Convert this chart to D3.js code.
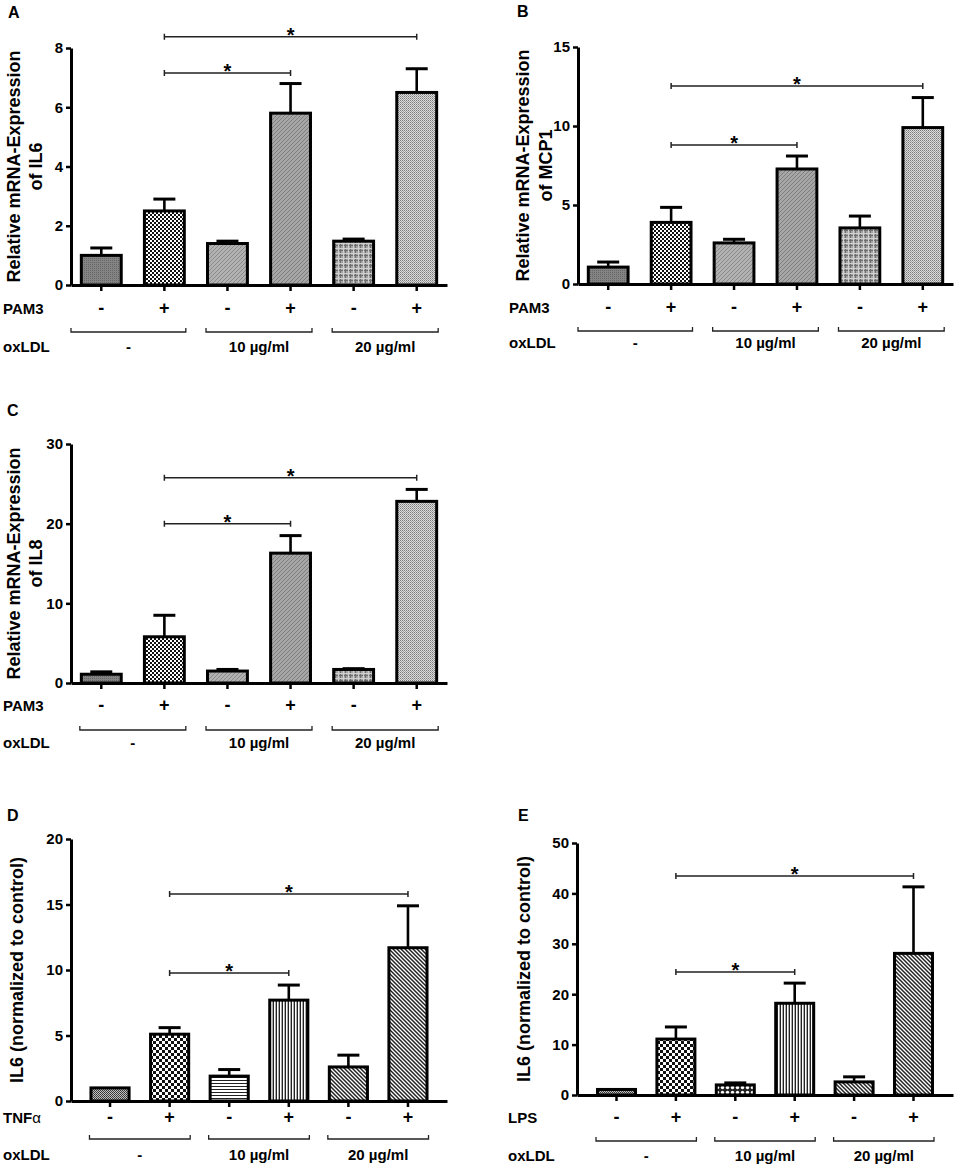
<!DOCTYPE html>
<html>
<head>
<meta charset="utf-8">
<script src="https://cdn.jsdelivr.net/npm/d3@7"></script>
<style>
  body { margin: 0; background: #fff; }
  svg { display: block; }
  text { font-family: "Liberation Sans", Arial, sans-serif; font-weight: bold; fill: #000; }
</style>
</head>
<body>
<div id="chart"></div>
<script>
// shared category labels
const treatSigns = ["-", "+", "-", "+", "-", "+"];
const oxldlGroups = ["-", "10 µg/ml", "20 µg/ml"];
const groupMembers = [[0, 1], [2, 3], [4, 5]];
const sigPairs = [[1, 3], [1, 5]];

// panel A - IL6 mRNA, PAM3
const il6Mean = [1.0, 2.5, 1.4, 5.8, 1.48, 6.5];
const il6Err  = [0.25, 0.4, 0.08, 1.0, 0.07, 0.8];
const il6Ticks = [0, 2, 4, 6, 8];

// panel B - MCP1 mRNA, PAM3
const mcp1Mean = [1.07, 3.9, 2.6, 7.28, 3.55, 9.9];
const mcp1Err  = [0.32, 0.95, 0.23, 0.82, 0.75, 1.9];
const mcp1Ticks = [0, 5, 10, 15];

// panel C - IL8 mRNA, PAM3
const il8Mean = [1.1, 5.8, 1.5, 16.3, 1.7, 22.8];
const il8Err  = [0.3, 2.7, 0.2, 2.2, 0.1, 1.5];
const il8Ticks = [0, 10, 20, 30];

// panel D - IL6 protein, TNFa
const tnfMean = [1.0, 5.1, 1.9, 7.7, 2.6, 11.7];
const tnfErr  = [0, 0.5, 0.5, 1.15, 0.9, 3.2];
const tnfTicks = [0, 5, 10, 15, 20];

// panel E - IL6 protein, LPS
const lpsMean = [1.1, 11.1, 2.0, 18.2, 2.6, 28.1];
const lpsErr  = [0, 2.4, 0.4, 4.0, 1.0, 13.2];
const lpsTicks = [0, 10, 20, 30, 40, 50];

const W = 956, H = 1165;
const svg = d3.select("#chart").append("svg").attr("width", W).attr("height", H);
svg.append("rect").attr("width", W).attr("height", H).attr("fill", "#fff");

// ---- fill patterns ----
const defs = svg.append("defs");
function pat(id, w, h, draw) {
  const p = defs.append("pattern").attr("id", id).attr("patternUnits", "userSpaceOnUse")
    .attr("width", w).attr("height", h);
  draw(p);
}
pat("pDark", 2, 2, p => {
  p.append("rect").attr("width", 2).attr("height", 2).attr("fill", "#848484");
  p.append("rect").attr("width", 1).attr("height", 1).attr("fill", "#666");
});
pat("pCheck", 4, 4, p => {
  p.append("rect").attr("width", 4).attr("height", 4).attr("fill", "#fff");
  p.append("rect").attr("width", 2).attr("height", 2).attr("fill", "#111");
  p.append("rect").attr("x", 2).attr("y", 2).attr("width", 2).attr("height", 2).attr("fill", "#111");
});
pat("pDiag1", 4, 4, p => {
  p.append("rect").attr("width", 4).attr("height", 4).attr("fill", "#b2b2b2");
  p.append("path").attr("d", "M0,4L4,0M-1,1L1,-1M3,5L5,3").attr("stroke", "#8a8a8a").attr("stroke-width", 1);
});
pat("pDiag2", 4, 4, p => {
  p.append("rect").attr("width", 4).attr("height", 4).attr("fill", "#a6a6a6");
  p.append("path").attr("d", "M0,4L4,0M-1,1L1,-1M3,5L5,3").attr("stroke", "#7e7e7e").attr("stroke-width", 1);
});
pat("pPlaid", 5, 5, p => {
  p.append("rect").attr("width", 5).attr("height", 5).attr("fill", "#a4a4a4");
  p.append("rect").attr("width", 1).attr("height", 5).attr("fill", "#6e6e6e");
  p.append("rect").attr("width", 5).attr("height", 1).attr("fill", "#6e6e6e");
  p.append("rect").attr("x", 3).attr("width", 1).attr("height", 5).attr("fill", "#d0d0d0");
  p.append("rect").attr("y", 3).attr("width", 5).attr("height", 1).attr("fill", "#d0d0d0");
});
pat("pDots", 2, 2, p => {
  p.append("rect").attr("width", 2).attr("height", 2).attr("fill", "#dcdcdc");
  p.append("rect").attr("width", 1).attr("height", 1).attr("fill", "#7a7a7a");
  p.append("rect").attr("x", 1).attr("y", 1).attr("width", 1).attr("height", 1).attr("fill", "#a0a0a0");
});
pat("dDark", 2, 2, p => {
  p.append("rect").attr("width", 2).attr("height", 2).attr("fill", "#c0c0c0");
  p.append("rect").attr("width", 1).attr("height", 1).attr("fill", "#333");
  p.append("rect").attr("x", 1).attr("y", 1).attr("width", 1).attr("height", 1).attr("fill", "#444");
});
pat("dCheck", 6, 6, p => {
  p.append("rect").attr("width", 6).attr("height", 6).attr("fill", "#fff");
  p.append("rect").attr("width", 3).attr("height", 3).attr("fill", "#111");
  p.append("rect").attr("x", 3).attr("y", 3).attr("width", 3).attr("height", 3).attr("fill", "#111");
});
pat("dHoriz", 3, 3, p => {
  p.append("rect").attr("width", 3).attr("height", 3).attr("fill", "#fff");
  p.append("rect").attr("width", 3).attr("height", 1).attr("fill", "#222");
});
pat("dVert", 3, 3, p => {
  p.append("rect").attr("width", 3).attr("height", 3).attr("fill", "#fff");
  p.append("rect").attr("width", 1).attr("height", 3).attr("fill", "#222");
  p.append("rect").attr("x", 2).attr("width", 1).attr("height", 3).attr("fill", "#aaa");
});
pat("dDiag", 4, 4, p => {
  p.append("rect").attr("width", 4).attr("height", 4).attr("fill", "#fff");
  p.append("path").attr("d", "M0,0L4,4M-1,3L1,5M3,-1L5,1").attr("stroke", "#222").attr("stroke-width", 1.5);
});
pat("eDots", 5, 5, p => {
  p.append("rect").attr("width", 5).attr("height", 5).attr("fill", "#222");
  p.append("circle").attr("cx", 2.5).attr("cy", 2.5).attr("r", 1.7).attr("fill", "#fff");
});

const fillsPAM = ["pDark", "pCheck", "pDiag1", "pDiag2", "pPlaid", "pDots"];
const fillsTNF = ["dDark", "dCheck", "dHoriz", "dVert", "dDiag", "dDiag"];
const fillsLPS = ["dDark", "dCheck", "eDots", "dVert", "dDiag", "dDiag"];

// ---- panel layouts ----
const panels = [
  { letter: "A", lx: 8, ly: 18, mean: il6Mean, err: il6Err, ticks: il6Ticks, fills: fillsPAM,
    title: ["Relative mRNA-Expression", "of IL6"], titleX: [20, 42],
    treat: "PAM3", rowX: 3, x0: 71, x1: 447, yTop: 48, yBot: 285, padIn: 0.32, padOut: 0.14,
    rows: [29, 47, 67], bracketFromAxis: true, sig: [7.16, 8.38] },
  { letter: "B", lx: 517, ly: 17, mean: mcp1Mean, err: mcp1Err, ticks: mcp1Ticks, fills: fillsPAM,
    title: ["Relative mRNA-Expression", "of MCP1"], titleX: [529, 552],
    treat: "PAM3", rowX: 509, x0: 578, x1: 953, yTop: 47, yBot: 284, padIn: 0.32, padOut: 0.14,
    rows: [29, 47, 64], bracketFromAxis: true, sig: [8.8, 12.53] },
  { letter: "C", lx: 7, ly: 416, mean: il8Mean, err: il8Err, ticks: il8Ticks, fills: fillsPAM,
    title: ["Relative mRNA-Expression", "of IL8"], titleX: [20, 42],
    treat: "PAM3", rowX: 3, x0: 71, x1: 447, yTop: 444, yBot: 683, padIn: 0.32, padOut: 0.14,
    rows: [28, 47, 65], bracketFromAxis: false, sig: [20.0, 25.75] },
  { letter: "D", lx: 7, ly: 821, mean: tnfMean, err: tnfErr, ticks: tnfTicks, fills: fillsTNF,
    title: ["IL6 (normalized to control)"], titleX: [23],
    treat: "TNF", treatGreek: "α", rowX: 3, x0: 71, x1: 447, yTop: 839, yBot: 1101, padIn: 0.31, padOut: 0.31,
    rows: [22, 38, 59], bracketFromAxis: false, sig: [9.77, 15.8] },
  { letter: "E", lx: 518, ly: 821, mean: lpsMean, err: lpsErr, ticks: lpsTicks, fills: fillsLPS,
    title: ["IL6 (normalized to control)"], titleX: [530],
    treat: "LPS", rowX: 508, x0: 577, x1: 953, yTop: 843, yBot: 1095, padIn: 0.31, padOut: 0.32,
    rows: [28, 46, 66], bracketFromAxis: false, sig: [24.4, 43.45] }
];

function drawPanel(P) {
  const g = svg.append("g");
  const idx = d3.range(P.mean.length);
  const x = d3.scaleBand().domain(idx).range([P.x0, P.x1]).paddingInner(P.padIn).paddingOuter(P.padOut);
  const y = d3.scaleLinear().domain([0, d3.max(P.ticks)]).range([P.yBot, P.yTop]);
  const bw = x.bandwidth();
  const cx = i => x(i) + bw / 2;

  // panel letter
  g.append("text").attr("x", P.lx).attr("y", P.ly).attr("font-size", 16).text(P.letter);

  // y title
  const midY = (P.yTop + P.yBot) / 2;
  P.title.forEach((t, k) => {
    g.append("text").attr("transform", `translate(${P.titleX[k]},${midY}) rotate(-90)`)
      .attr("text-anchor", "middle").attr("font-size", 18).text(t);
  });

  // bars
  g.selectAll(".bar").data(idx).join("rect")
    .attr("x", i => x(i) + 1.5).attr("width", bw - 3)
    .attr("y", i => y(P.mean[i])).attr("height", i => y(0) - y(P.mean[i]))
    .attr("fill", i => `url(#${P.fills[i]})`)
    .attr("stroke", "#000").attr("stroke-width", 3);

  // error bars (upper only)
  const withErr = idx.filter(i => P.err[i] > 0);
  g.selectAll(".stem").data(withErr).join("line")
    .attr("x1", cx).attr("x2", cx)
    .attr("y1", i => y(P.mean[i])).attr("y2", i => y(P.mean[i] + P.err[i]))
    .attr("stroke", "#000").attr("stroke-width", 2.6);
  g.selectAll(".cap").data(withErr).join("line")
    .attr("x1", i => cx(i) - 11).attr("x2", i => cx(i) + 11)
    .attr("y1", i => y(P.mean[i] + P.err[i])).attr("y2", i => y(P.mean[i] + P.err[i]))
    .attr("stroke", "#000").attr("stroke-width", 3);

  // axes
  const ya = g.append("g").attr("transform", `translate(${P.x0},0)`)
    .call(d3.axisLeft(y).tickValues(P.ticks).tickSize(5).tickSizeOuter(0).tickPadding(3));
  ya.select(".domain").attr("stroke-width", 3);
  ya.selectAll(".tick line").attr("stroke-width", 2.5);
  ya.selectAll(".tick text").attr("font-size", 15).attr("font-family", null).attr("fill", "#000");

  const xa = g.append("g").attr("transform", `translate(0,${P.yBot})`)
    .call(d3.axisBottom(x).tickFormat("").tickSize(6).tickSizeOuter(0));
  xa.select(".domain").attr("stroke-width", 3);
  xa.selectAll(".tick line").attr("stroke-width", 2.5);

  // treatment row
  const r1 = P.yBot + P.rows[0];
  const lab = g.append("text").attr("x", P.rowX).attr("y", r1).attr("font-size", 15).text(P.treat);
  if (P.treatGreek) lab.append("tspan").attr("font-weight", "normal").text(P.treatGreek);
  g.selectAll(".sign").data(idx).join("text")
    .attr("x", cx).attr("y", r1).attr("text-anchor", "middle").attr("font-size", 18)
    .text(i => treatSigns[i]);

  // oxLDL group brackets
  const r2 = P.yBot + P.rows[1];
  const r3 = P.yBot + P.rows[2];
  groupMembers.forEach((m, k) => {
    const xs = (k === 0 && P.bracketFromAxis) ? P.x0 : x(m[0]);
    const xe = x(m[1]) + bw;
    g.append("path").attr("d", `M${xs},${r2 - 4}V${r2}H${xe}V${r2 - 4}`)
      .attr("fill", "none").attr("stroke", "#222").attr("stroke-width", 1.3);
    g.append("text").attr("x", (xs + xe) / 2).attr("y", r3).attr("text-anchor", "middle")
      .attr("font-size", 15).text(oxldlGroups[k]);
  });
  g.append("text").attr("x", P.rowX).attr("y", r3).attr("font-size", 15).text("oxLDL");

  // significance brackets
  sigPairs.forEach((pr, k) => {
    const yy = y(P.sig[k]);
    const xa1 = cx(pr[0]), xb = cx(pr[1]);
    g.append("path").attr("d", `M${xa1},${yy - 3}V${yy + 3}M${xa1},${yy}H${xb}M${xb},${yy - 3}V${yy + 3}`)
      .attr("fill", "none").attr("stroke", "#222").attr("stroke-width", 1.5);
    g.append("text").attr("x", (xa1 + xb) / 2).attr("y", yy + 5).attr("text-anchor", "middle")
      .attr("font-size", 20).text("*");
  });
}

panels.forEach(drawPanel);
</script>
</body>
</html>
